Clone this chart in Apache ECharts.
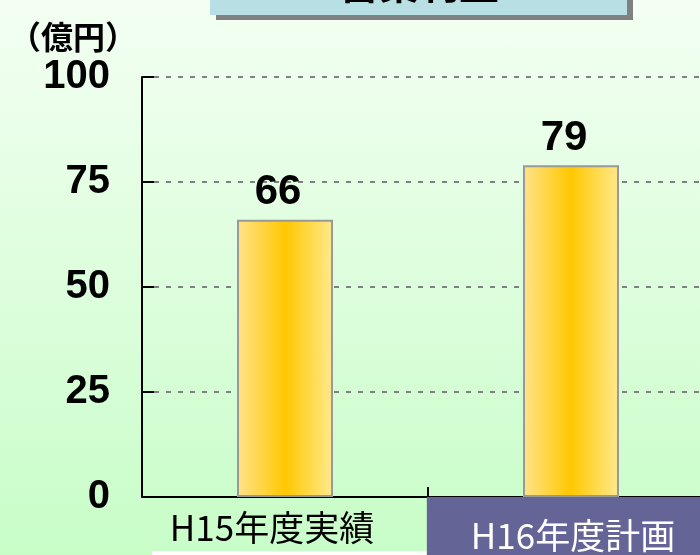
<!DOCTYPE html>
<html>
<head>
<meta charset="utf-8">
<script src="https://cdn.jsdelivr.net/npm/echarts@6/dist/echarts.min.js"></script>
<style>
html,body{margin:0;padding:0;background:#fff;}
#wrap{position:relative;width:700px;height:555px;overflow:hidden;}
#bg{position:absolute;left:0;top:0;width:700px;height:555px;background:linear-gradient(to bottom,#f3fff2 0%,#c8fdc8 100%);}
#strip{position:absolute;left:152px;top:551px;width:280px;height:4px;background:#fff;}
#chart{position:absolute;left:0;top:0;width:700px;height:555px;}
</style>
</head>
<body>
<div id="wrap"><div id="bg"></div><div id="strip"></div><div id="chart"></div></div>
<script>
var categories = ['H15年度実績', 'H16年度計画'];
var values = [66, 79];
var yTicks = [0, 25, 50, 75, 100];
var titleText = '営業利益';
var unitText = '（億円）';

var chart = echarts.init(document.getElementById('chart'), null, {renderer: 'canvas'});
var barGrad = new echarts.graphic.LinearGradient(0, 0, 1, 0, [
  {offset: 0, color: '#ffe38c'},
  {offset: 0.5, color: '#ffc800'},
  {offset: 1, color: '#ffe98f'}
]);
var option = {
  backgroundColor: 'transparent',
  animation: false,
  grid: {left: 142, right: -14, top: 77, bottom: 58, containLabel: false, outerBoundsMode: 'none'},
  graphic: [
    {type: 'rect', shape: {x: 216, y: -20, width: 417, height: 40}, style: {fill: '#808080'}, z: 100},
    {type: 'rect', shape: {x: 210, y: -25, width: 417, height: 40}, style: {fill: '#b8e0e4'}, z: 101},
    {type: 'text', x: 419, y: 4, style: {text: titleText, font: 'bold 40px "Noto Sans CJK JP"', fill: '#000', textAlign: 'center', textVerticalAlign: 'bottom'}, z: 102},
    {type: 'text', x: 9, y: 37, style: {text: unitText, font: 'bold 32px "Noto Sans CJK JP"', fill: '#000', textAlign: 'left', textVerticalAlign: 'middle'}, z: 102}
  ],
  xAxis: {
    type: 'category',
    data: categories,
    axisLine: {show: true, lineStyle: {color: '#000', width: 2}},
    axisTick: {show: true, inside: true, length: 10, lineStyle: {color: '#000', width: 2}},
    axisLabel: {
      margin: 12,
      formatter: function (v, i) { return i === 1 ? '{b|' + v + '}' : '{a|' + v + '}'; },
      rich: {
        a: {fontSize: 35, fontFamily: '"Noto Sans CJK JP"', color: '#000', lineHeight: 38, padding: [0, 26, 0, 0]},
        b: {fontSize: 35, fontFamily: '"Noto Sans CJK JP"', color: '#fff', lineHeight: 40, backgroundColor: '#646496', padding: [21, 40, 8, 44]}
      }
    },
    splitLine: {show: false}
  },
  yAxis: {
    type: 'value',
    min: yTicks[0],
    max: yTicks[yTicks.length - 1],
    interval: yTicks[1] - yTicks[0],
    axisLine: {show: true, lineStyle: {color: '#000', width: 2}},
    axisTick: {show: true, inside: true, length: 12, lineStyle: {color: '#000', width: 2}},
    axisLabel: {margin: 32, fontSize: 40, fontWeight: 'bold', fontFamily: 'Arial, "Liberation Sans"', color: '#000'},
    splitLine: {show: true, lineStyle: {color: '#808080', width: 2, type: [5, 7]}}
  },
  series: [{
    type: 'bar',
    data: values,
    barWidth: 96,
    itemStyle: {color: barGrad, borderColor: '#999999', borderWidth: 2},
    label: {show: true, position: 'top', distance: 6, offset: [-7, 0], fontSize: 42, fontWeight: 'bold', fontFamily: 'Arial, "Liberation Sans"', color: '#000'}
  }]
};
chart.setOption(option);
</script>
</body>
</html>
